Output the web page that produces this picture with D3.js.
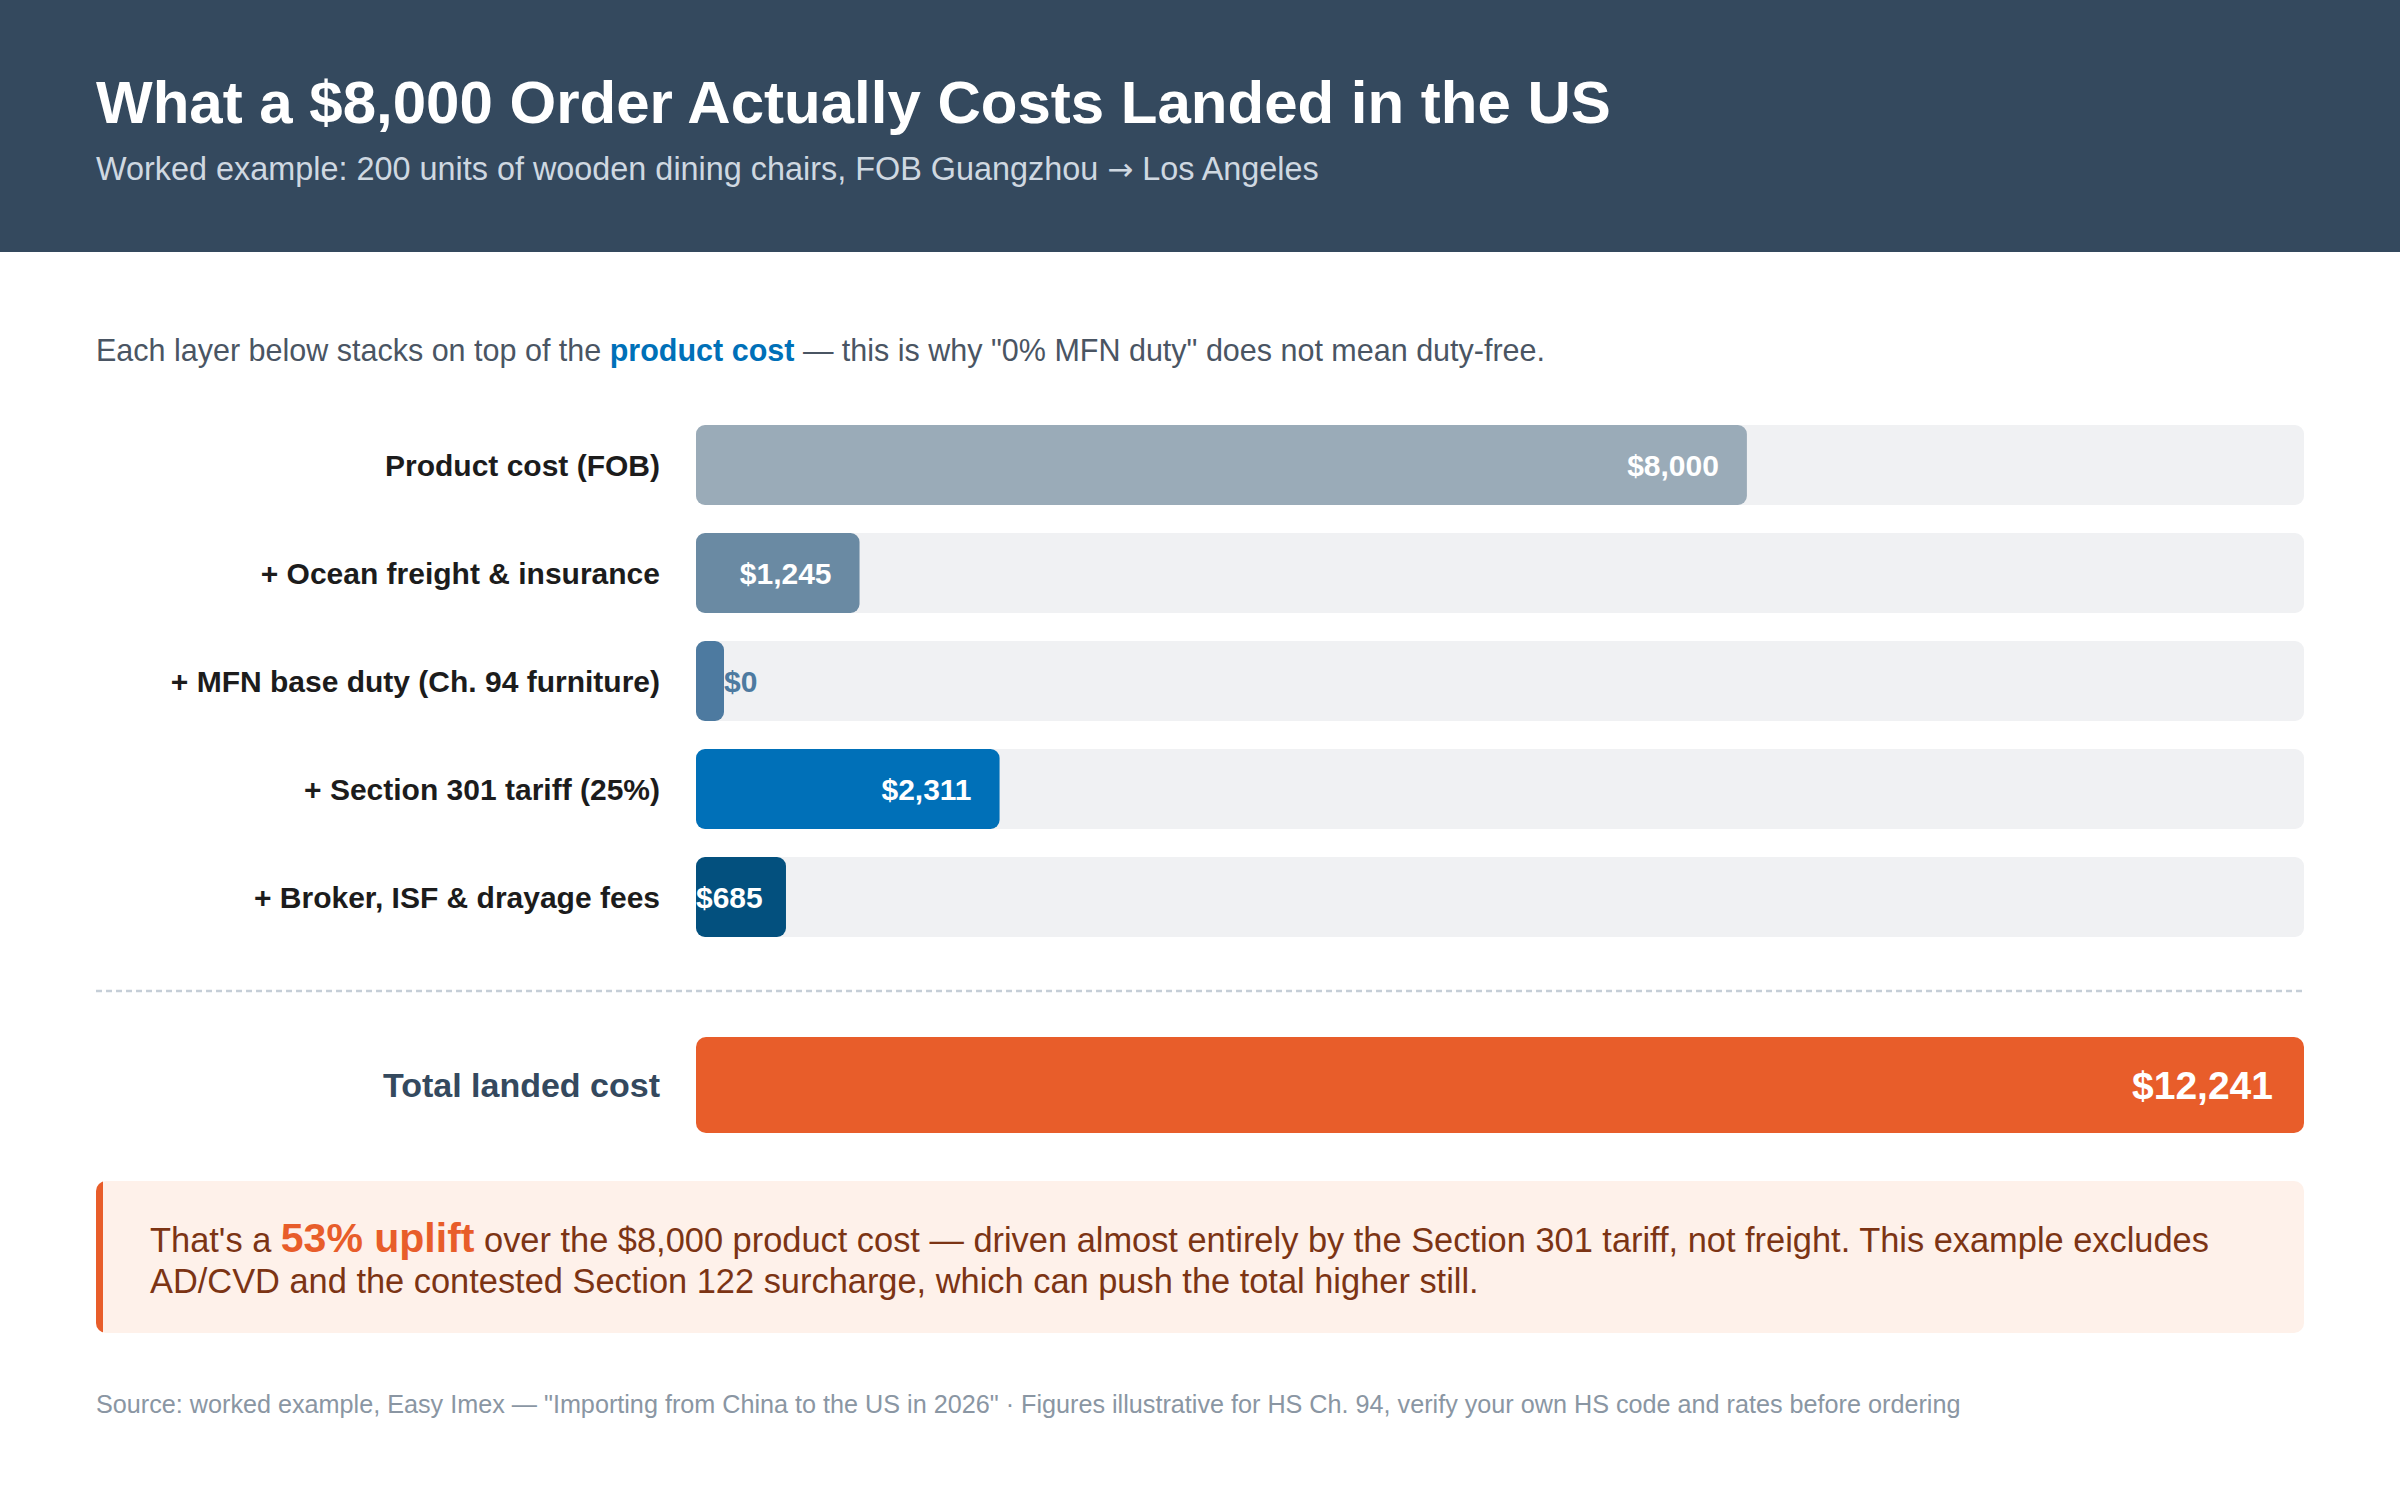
<!DOCTYPE html>
<html>
<head>
<meta charset="utf-8">
<script src="https://cdn.jsdelivr.net/npm/d3@7"></script>
<style>
  body { margin: 0; background: #fff; }
  svg { display: block; font-family: "Liberation Sans", Arial, Helvetica, sans-serif; }
</style>
</head>
<body>
<svg id="chart" width="2400" height="1500"></svg>
<script>
// data
var categories = [
  "Product cost (FOB)",
  "+ Ocean freight & insurance",
  "+ MFN base duty (Ch. 94 furniture)",
  "+ Section 301 tariff (25%)",
  "+ Broker, ISF & drayage fees"
];
var values = [8000, 1245, 0, 2311, 685];
var totalLabel = "Total landed cost";
var baseCost = values[0];

var barColors = ["#9aabb8", "#6a8aa3", "#4d7aa0", "#0070b8", "#03507e"];

var fmt = function(v) { return "$" + d3.format(",")(v); };
var total = d3.sum(values);
var uplift = Math.round((total - baseCost) / baseCost * 100);

var svg = d3.select("#chart");

// header
svg.append("rect").attr("x", 0).attr("y", 0).attr("width", 2400).attr("height", 252).attr("fill", "#34495e");
svg.append("text").attr("x", 96).attr("y", 123)
  .attr("font-size", 60).attr("font-weight", "bold").attr("fill", "#fff")
  .text("What a $8,000 Order Actually Costs Landed in the US");
var sub = svg.append("text").attr("x", 96).attr("y", 180)
  .attr("font-size", 32.4).attr("fill", "#cfd8e1");
sub.append("tspan").text("Worked example: 200 units of wooden dining chairs, FOB Guangzhou ");
sub.append("tspan").attr("font-family", "DejaVu Sans").attr("font-size", 31).text("\u2192");
sub.append("tspan").text(" Los Angeles");

// intro line
var intro = svg.append("text").attr("x", 96).attr("y", 361)
  .attr("font-size", 30.5).attr("fill", "#4a5563");
intro.append("tspan").text("Each layer below stacks on top of the ");
intro.append("tspan").attr("font-weight", "bold").attr("fill", "#0070b8").text("product cost");
intro.append("tspan").text(" \u2014 this is why \"0% MFN duty\" does not mean duty-free.");

// scales
var x = d3.scaleLinear().domain([0, total]).range([696, 2304]);
var y = d3.scaleBand().domain(categories).range([425, 937]).paddingInner(28 / 108).paddingOuter(0);
var minW = 28, pad = 28;

var rows = svg.append("g").selectAll("g.row")
  .data(categories)
  .enter().append("g").attr("class", "row")
  .attr("transform", function(d) { return "translate(0," + y(d) + ")"; });

rows.append("rect")
  .attr("x", x(0)).attr("width", x.range()[1] - x(0))
  .attr("height", y.bandwidth()).attr("rx", 9)
  .attr("fill", "#f0f1f3");

rows.append("rect")
  .attr("x", x(0))
  .attr("width", function(d, i) { return Math.max(x(values[i]) - x(0), minW); })
  .attr("height", y.bandwidth()).attr("rx", 9)
  .attr("fill", function(d, i) { return barColors[i]; });

rows.append("text")
  .attr("x", 660).attr("y", y.bandwidth() / 2).attr("dy", "0.35em")
  .attr("text-anchor", "end").attr("font-size", 30).attr("font-weight", "bold")
  .attr("fill", "#1c1c1c")
  .text(function(d) { return d; });

rows.append("text")
  .attr("y", y.bandwidth() / 2).attr("dy", "0.35em")
  .attr("font-size", 30).attr("font-weight", "bold")
  .text(function(d, i) { return fmt(values[i]); })
  .each(function(d, i) {
    var t = d3.select(this);
    var w = Math.max(x(values[i]) - x(0), minW);
    var end = x(0) + w;
    var len = this.getComputedTextLength();
    if (w < 60) {
      t.attr("x", end).attr("text-anchor", "start").attr("fill", barColors[i]);
    } else if (end - pad - len < x(0)) {
      t.attr("x", x(0)).attr("text-anchor", "start").attr("fill", "#fff");
    } else {
      t.attr("x", end - pad).attr("text-anchor", "end").attr("fill", "#fff");
    }
  });

// divider
svg.append("line").attr("x1", 96).attr("x2", 2304).attr("y1", 991).attr("y2", 991)
  .attr("stroke", "#c5ced7").attr("stroke-width", 2.5).attr("stroke-dasharray", "6 4");

// total
svg.append("rect").attr("x", x(0)).attr("y", 1037)
  .attr("width", x(total) - x(0)).attr("height", 96).attr("rx", 10)
  .attr("fill", "#e85d2a");
svg.append("text").attr("x", 660).attr("y", 1085).attr("dy", "0.35em")
  .attr("text-anchor", "end").attr("font-size", 34).attr("font-weight", "bold")
  .attr("fill", "#34495e").text(totalLabel);
svg.append("text").attr("x", x(total) - 31).attr("y", 1085).attr("dy", "0.35em")
  .attr("text-anchor", "end").attr("font-size", 39).attr("font-weight", "bold")
  .attr("fill", "#fff").text(fmt(total));

// callout
var defs = svg.append("defs");
defs.append("clipPath").attr("id", "callclip")
  .append("rect").attr("x", 96).attr("y", 1181).attr("width", 2208).attr("height", 152).attr("rx", 10);
var call = svg.append("g").attr("clip-path", "url(#callclip)");
call.append("rect").attr("x", 96).attr("y", 1181).attr("width", 2208).attr("height", 152).attr("fill", "#fef1ea");
call.append("rect").attr("x", 96).attr("y", 1181).attr("width", 7).attr("height", 152).attr("fill", "#e85d2a");

var l1 = svg.append("text").attr("x", 150).attr("y", 1252).attr("font-size", 34.4).attr("fill", "#7c3414");
l1.append("tspan").text("That's a ");
l1.append("tspan").attr("font-size", 41).attr("font-weight", "bold").attr("fill", "#e85d2a").text(uplift + "% uplift");
l1.append("tspan").text(" over the " + fmt(baseCost) + " product cost \u2014 driven almost entirely by the Section 301 tariff, not freight. This example excludes");
svg.append("text").attr("x", 150).attr("y", 1293).attr("font-size", 34.4).attr("fill", "#7c3414")
  .text("AD/CVD and the contested Section 122 surcharge, which can push the total higher still.");

// source
svg.append("text").attr("x", 96).attr("y", 1413).attr("font-size", 25.2).attr("fill", "#8a96a3")
  .text("Source: worked example, Easy Imex \u2014 \"Importing from China to the US in 2026\" \u00b7 Figures illustrative for HS Ch. 94, verify your own HS code and rates before ordering");
</script>
</body>
</html>
